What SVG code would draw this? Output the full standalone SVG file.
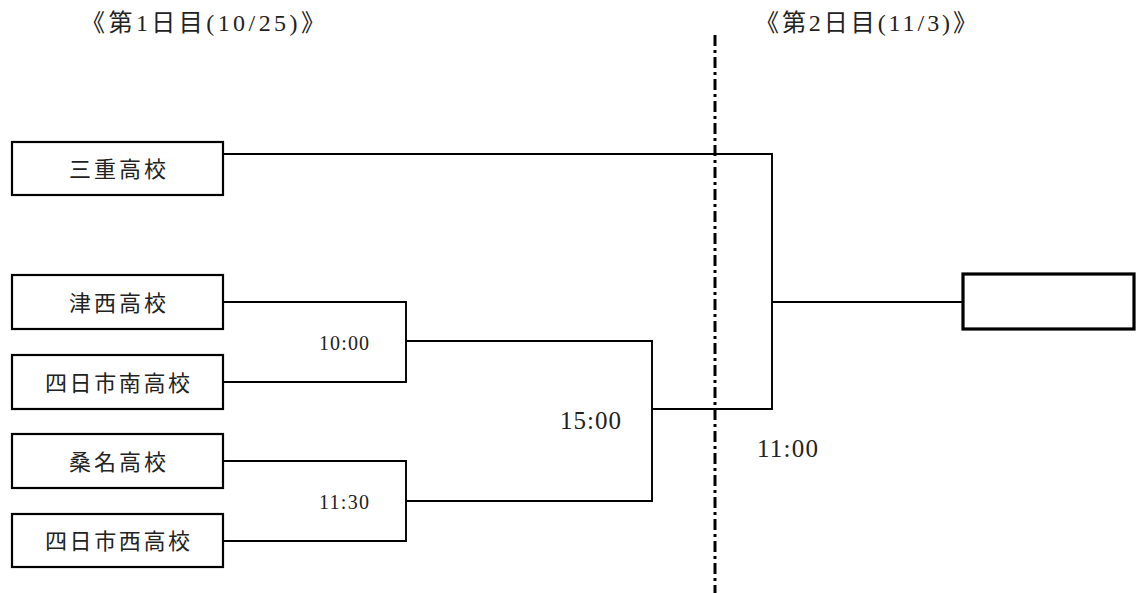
<svg xmlns="http://www.w3.org/2000/svg" width="1136" height="593" viewBox="0 0 1136 593">
<style>
.box{fill:#fff;stroke:#000;stroke-width:2.2}
.fin{fill:#fff;stroke:#000;stroke-width:3.2}
.ln{fill:none;stroke:#000;stroke-width:1.9}
.dd{fill:none;stroke:#000;stroke-width:3;stroke-dasharray:11 4 3 4}
.nm{font-family:"Noto Sans CJK JP","Liberation Sans",sans-serif;font-size:22px;fill:#222;text-anchor:middle}
.ttl{font-family:"Liberation Serif","Noto Sans CJK JP",serif;font-size:24px;fill:#222}
.tm{font-family:"Liberation Serif","DejaVu Serif",serif;fill:#222}
</style>
<rect width="1136" height="593" fill="#fff"/>
<g id="titles">
<text class="ttl" x="81" y="31" textLength="244" lengthAdjust="spacing">《第1日目(10/25)》</text>
<text class="ttl" x="755" y="31" textLength="222" lengthAdjust="spacing">《第2日目(11/3)》</text>
</g>
<g id="divider"><line class="dd" x1="715" y1="35" x2="715" y2="593"/></g>
<g id="connectors">
<polyline class="ln" points="223,154 772,154 772,409 652,409"/>
<polyline class="ln" points="223,302 406,302 406,382 223,382"/>
<polyline class="ln" points="223,461 406,461 406,541 223,541"/>
<polyline class="ln" points="406,341 652,341 652,501 406,501"/>
<line class="ln" x1="772" y1="302" x2="963" y2="302"/>
</g>
<g id="node-mie"><rect class="box" x="12" y="142" width="211" height="53"/><text class="nm" x="117.5" y="177" textLength="97" lengthAdjust="spacing">三重高校</text></g>
<g id="node-tsunishi"><rect class="box" x="12" y="275" width="211" height="54"/><text class="nm" x="117.5" y="311" textLength="97" lengthAdjust="spacing">津西高校</text></g>
<g id="node-yokkaichiminami"><rect class="box" x="12" y="355" width="211" height="54"/><text class="nm" x="117.5" y="391" textLength="145" lengthAdjust="spacing">四日市南高校</text></g>
<g id="node-kuwana"><rect class="box" x="12" y="434" width="211" height="54"/><text class="nm" x="117.5" y="470" textLength="97" lengthAdjust="spacing">桑名高校</text></g>
<g id="node-yokkaichinishi"><rect class="box" x="12" y="514" width="211" height="53"/><text class="nm" x="117.5" y="549" textLength="145" lengthAdjust="spacing">四日市西高校</text></g>
<g id="node-final"><rect class="fin" x="963" y="274" width="171" height="55"/></g>
<g id="times">
<text class="tm" x="319" y="350" font-size="20" textLength="50" lengthAdjust="spacing">10:00</text>
<text class="tm" x="319" y="509" font-size="20" textLength="50" lengthAdjust="spacing">11:30</text>
<text class="tm" x="560" y="429" font-size="25" textLength="61" lengthAdjust="spacing">15:00</text>
<text class="tm" x="757" y="457" font-size="25" textLength="61" lengthAdjust="spacing">11:00</text>
</g>
</svg>
